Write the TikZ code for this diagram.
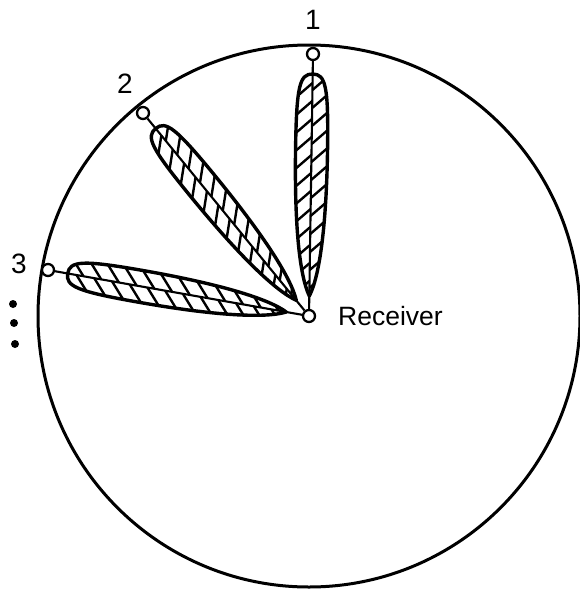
\documentclass[tikz,border=0pt]{standalone}
\usepackage{fontspec}
\setmainfont{Liberation Sans}
\begin{document}
\begin{tikzpicture}[x=1pt,y=1pt,
  lbl/.style={font=\fontsize{28}{32}\selectfont, inner sep=0pt},
  port/.style={circle, draw, line width=2.3pt, minimum size=12pt, inner sep=0pt, fill=white},
  rim/.style={line width=3pt},
  lobeline/.style={line width=3.4pt, line join=round},
  hatch/.style={line width=2.4pt},
  axisline/.style={line width=2.1pt},
  dotmark/.style={circle, fill, minimum size=8pt, inner sep=0pt},
  lobeshape/.style={insert path={(20,0) .. controls (20,13) and (32,16) .. (95,16) .. controls (172,16) and (222,10) .. (242,0) .. controls (222,-10) and (172,-16) .. (95,-16) .. controls (32,-16) and (20,-13) .. (20,0) -- cycle}}]
\useasboundingbox (0,0) rectangle (580,-590);
\draw[rim] (309,-316) circle[radius=271];
% nodes
\node[port] (rx) at (309,-316) {};
\node[port] (t1) at (313,-54) {};
\node[port] (t2) at (143,-113) {};
\node[port] (t3) at (48,-270) {};
\node[lbl, font=\fontsize{26.5}{30}\selectfont, anchor=base west] (rxl) at (338,-325) {Receiver};
\node[lbl] (l1) at (313,-20) {1};
\node[lbl] (l2) at (125,-84) {2};
\node[lbl] (l3) at (19,-264) {3};
\node[dotmark] (d1) at (13,-304) {};
\node[dotmark] (d2) at (14,-323) {};
\node[dotmark] (d3) at (15,-344) {};
% lobes
\foreach \t/\ang in {t1/-90.87, t2/-50.7, t3/-10.0}{
  \begin{scope}[shift={(\t.center)}, rotate=\ang]
    \begin{scope}
      \clip[lobeshape];
      \foreach \a in {2,20,...,250}{
        \draw[hatch] (\a,18) -- ++(16,-18);
        \draw[hatch] (\a+9,0) -- ++(16,-18);
      }
    \end{scope}
    \draw[lobeline, lobeshape];
  \end{scope}
}
% axes
\draw[axisline] (t1) -- (rx);
\draw[axisline] (t2) -- (rx);
\draw[axisline] (t3) -- (rx);
\end{tikzpicture}
\end{document}
